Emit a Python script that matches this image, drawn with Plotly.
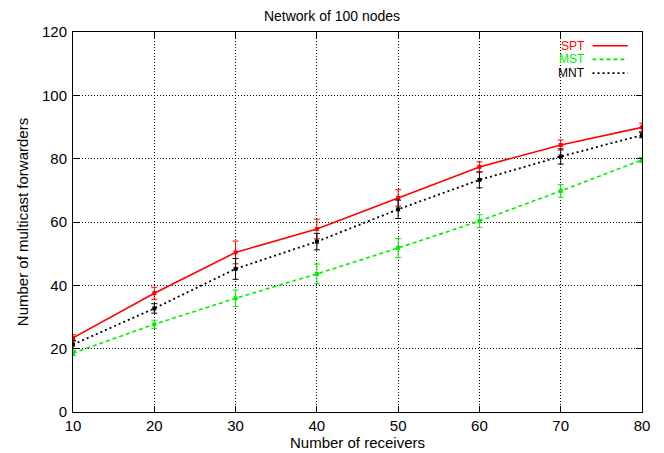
import plotly.graph_objects as go

receivers = [10, 20, 30, 40, 50, 60, 70, 80]
spt = [23.4, 37.5, 50.4, 57.8, 67.6, 77.4, 84.3, 89.9]
spt_err = [1.0, 1.9, 3.6, 3.1, 2.6, 1.6, 1.6, 1.3]
mst = [18.6, 27.7, 35.9, 43.6, 51.8, 60.3, 69.8, 79.6]
mst_err = [0.8, 1.3, 2.6, 3.1, 3.0, 2.0, 2.0, 0.8]
mnt = [21.3, 32.7, 45.2, 53.8, 64.0, 73.3, 80.7, 87.4]
mnt_err = [1.3, 1.5, 3.3, 2.6, 2.9, 2.5, 2.4, 0.8]

series = [
    ("SPT", spt, spt_err, "#ff0000", "solid", 1.6),
    ("MST", mst, mst_err, "#00ee00", "4px,3px", 1.6),
    ("MNT", mnt, mnt_err, "#000000", "2px,3px", 1.8),
]

FONT = "Liberation Sans, Arial, sans-serif"
fig = go.Figure()
for name, y, err, color, dash, w in series:
    fig.add_trace(go.Scatter(
        x=receivers, y=y, name=name, mode="lines+markers",
        line=dict(color=color, width=w, dash=dash),
        marker=dict(color=color, size=4, symbol="square"),
        error_y=dict(type="data", array=err, visible=True, color=color,
                     thickness=1, width=3),
        showlegend=False,
    ))

# gnuplot-style key: coloured text on the left, line sample on the right
key_y = [0.964, 0.928, 0.892]
for (name, y, err, color, dash, w), ky in zip(series, key_y):
    fig.add_annotation(xref="paper", yref="paper", x=0.904, y=ky,
                       text=name, showarrow=False, xanchor="right", yanchor="middle",
                       font=dict(family=FONT, size=12, color=color))
    fig.add_shape(type="line", xref="paper", yref="paper",
                  x0=0.913, x1=0.975, y0=ky, y1=ky,
                  line=dict(color=color, width=w, dash=dash))

axis_common = dict(
    showline=True, linecolor="black", linewidth=1, mirror="ticks",
    ticks="inside", ticklen=6, tickcolor="black",
    showgrid=True, gridcolor="black", gridwidth=1, griddash="1px,2px",
    zeroline=False, automargin=False,
    tickfont=dict(family=FONT, size=15, color="black"),
)

fig.update_xaxes(range=[10, 80], tickvals=[10, 20, 30, 40, 50, 60, 70, 80],
                 title=dict(text="Number of receivers", font=dict(family=FONT, size=15, color="black"),
                            standoff=3),
                 **axis_common)
fig.update_yaxes(range=[0, 120], tickvals=[0, 20, 40, 60, 80, 100, 120],
                 ticklabelstandoff=2,
                 title=dict(text="Number of multicast forwarders", font=dict(family=FONT, size=15, color="black"),
                            standoff=9),
                 **axis_common)

fig.update_layout(
    width=664, height=453,
    margin=dict(l=73, r=22, t=32, b=41),
    paper_bgcolor="white", plot_bgcolor="white",
    title=dict(text="Network of 100 nodes", x=0.5, xanchor="center", y=0.965, yanchor="middle",
               font=dict(family=FONT, size=14, color="black")),
)

fig.write_html("out.html")
